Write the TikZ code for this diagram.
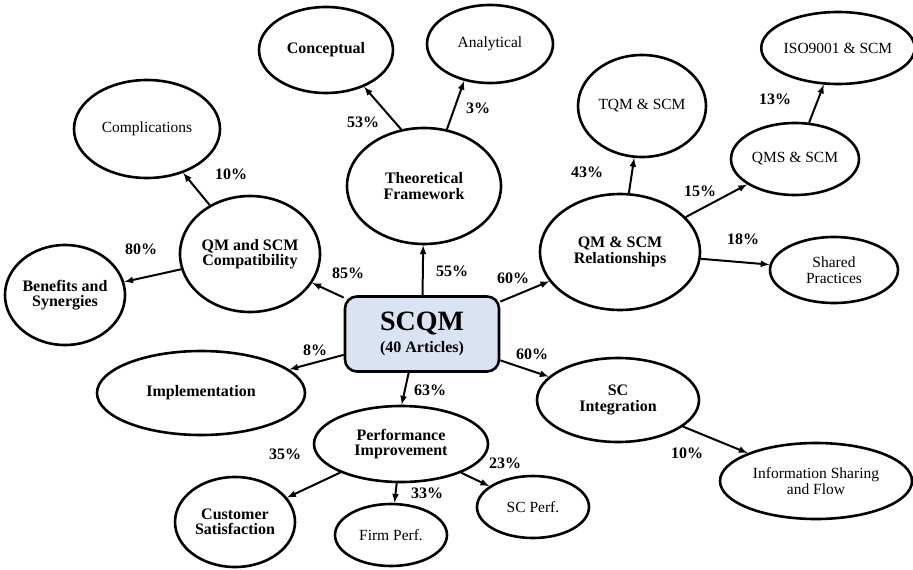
\documentclass[tikz,border=0pt]{standalone}
\usepackage{fontspec}
\setmainfont{Liberation Serif}
\usetikzlibrary{shapes.geometric}
\definecolor{boxblue}{HTML}{DAE3F3}
\begin{document}
\begin{tikzpicture}[x=1pt,y=-1pt,
every node/.style={%
font=\fontsize{15.5}{15.5}\selectfont,
align=center,
},
ell/.style={ellipse,draw,line width=2.6pt,inner sep=0pt},
bf/.style={font=\fontsize{16}{15.5}\selectfont\bfseries},
pct/.style={font=\fontsize{16}{16}\selectfont\bfseries},
arw/.style={-latex,line width=2pt}
]
\useasboundingbox(0,0)rectangle(913,570);
\node[draw,line width=2.6pt,rounded corners=12pt,fill=boxblue,minimum width=154,minimum height=75,inner sep=0pt]at(422,334)(scqm){{\fontsize{28}{24}\selectfont\bfseries SCQM}\\[6pt]{\fontsize{16}{17}\selectfont\bfseries (40 Articles)}};
\node[ell,bf,minimum width=154,minimum height=116]at(424,186)(theo){Theoretical\\Framework};
\node[ell,bf,minimum width=134,minimum height=86]at(326,50)(concept){Conceptual};
\node[ell,minimum width=126,minimum height=78]at(490,44)(analyt){Analytical};
\node[ell,bf,minimum width=140,minimum height=116]at(250,254)(compat){QM and SCM\\Compatibility};
\node[ell,minimum width=146,minimum height=98]at(147,129)(compl){Complications};
\node[ell,bf,minimum width=110,minimum height=100]at(65,295)(benef){Benefits and\\Synergies};
\node[ell,bf,minimum width=160,minimum height=116]at(620,252)(relat){QM \& SCM\\Relationships};
\node[ell,minimum width=128,minimum height=102]at(642,106)(tqm){TQM \& SCM};
\node[ell,minimum width=128,minimum height=72]at(795,159)(qms){QMS \& SCM};
\node[ell,minimum width=150,minimum height=72]at(838,48)(iso){ISO9001 \& SCM};
\node[ell,minimum width=128,minimum height=66]at(834,270)(shared){Shared\\Practices};
\node[ell,bf,minimum width=208,minimum height=84]at(201,393)(impl){Implementation};
\node[ell,bf,minimum width=174,minimum height=76]at(401,444)(perf){Performance\\Improvement};
\node[ell,bf,minimum width=120,minimum height=90]at(235,522)(cust){Customer\\Satisfaction};
\node[ell,minimum width=112,minimum height=62]at(391,535)(firm){Firm Perf.};
\node[ell,minimum width=112,minimum height=62]at(533,507)(scperf){SC Perf.};
\node[ell,bf,minimum width=162,minimum height=84]at(618,400)(scint){SC\\Integration};
\node[ell,minimum width=192,minimum height=76]at(816,481)(info){Information Sharing\\and Flow};
% percentages
\node[pct]at(363,122)(p53){53\%};
\node[pct]at(478,108)(p3){3\%};
\node[pct]at(231,174)(p10a){10\%};
\node[pct]at(141,249)(p80){80\%};
\node[pct]at(348,273)(p85){85\%};
\node[pct]at(452,271)(p55){55\%};
\node[pct]at(513,278)(p60a){60\%};
\node[pct]at(587,172)(p43){43\%};
\node[pct]at(700,191)(p15){15\%};
\node[pct]at(775,99)(p13){13\%};
\node[pct]at(743,239)(p18){18\%};
\node[pct]at(315,350)(p8){8\%};
\node[pct]at(430,390)(p63){63\%};
\node[pct]at(532,354)(p60b){60\%};
\node[pct]at(285,454)(p35){35\%};
\node[pct]at(427,493)(p33){33\%};
\node[pct]at(505,463)(p23){23\%};
\node[pct]at(687,453)(p10b){10\%};
% arrows
\draw[arw](scqm)--(theo);
\draw[arw](scqm)--(compat);
\draw[arw](scqm)--(impl);
\draw[arw](scqm.251)--(perf.89);
\draw[arw](scqm)--(relat);
\draw[arw](scqm)--(scint);
\draw[arw](theo.112)--(concept.-44);
\draw[arw](theo.68)--(analyt.235);
\draw[arw](compat)--(compl);
\draw[arw](compat)--(benef);
\draw[arw](relat)--(tqm);
\draw[arw](relat)--(qms);
\draw[arw](qms)--(iso);
\draw[arw](relat)--(shared);
\draw[arw](perf)--(cust);
\draw[arw](perf)--(firm);
\draw[arw](perf)--(scperf);
\draw[arw](scint)--(info);
\end{tikzpicture}
\end{document}
